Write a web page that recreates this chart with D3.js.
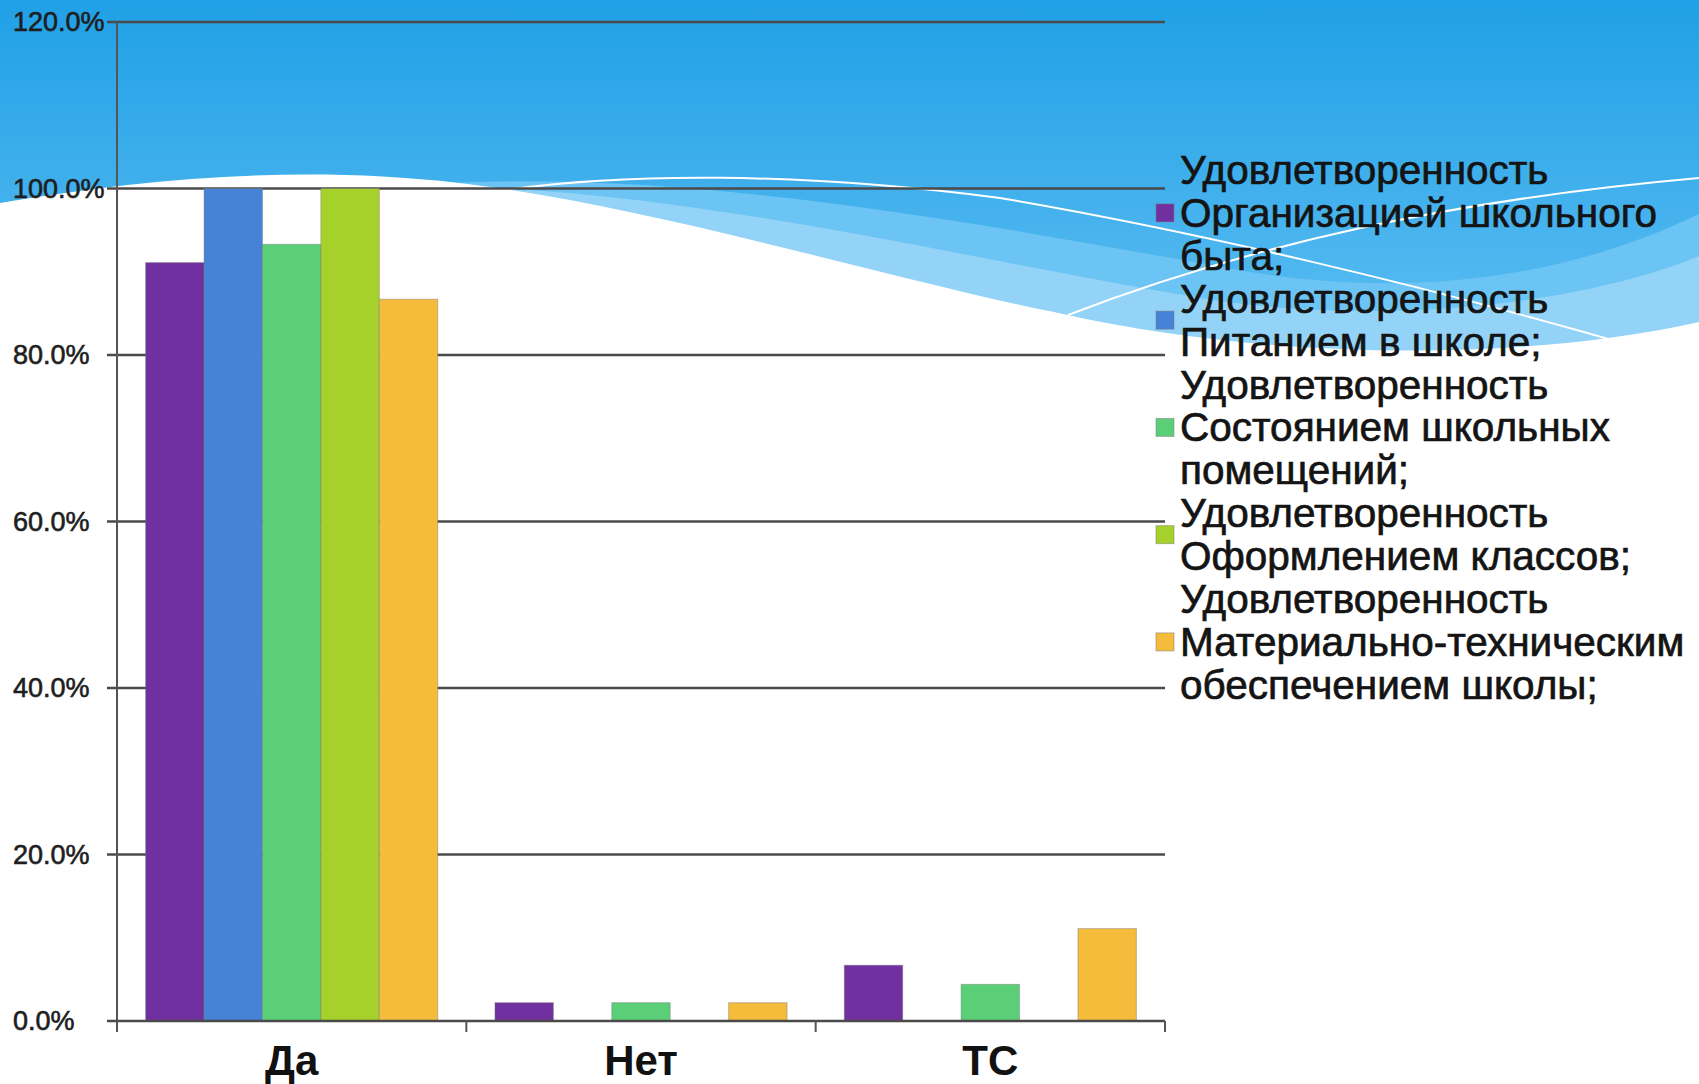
<!DOCTYPE html>
<html>
<head>
<meta charset="utf-8">
<script src="https://cdn.jsdelivr.net/npm/d3@7"></script>
<style>
  html, body { margin: 0; padding: 0; background: #fff; }
  svg { display: block; }
</style>
</head>
<body>
<div id="chart"></div>
<script>
// categories on the x axis
const categories = ["Да", "Нет", "ТС"];

// legend entries, already broken into lines as on the slide
const seriesNames = [
    ["Удовлетворенность", "Организацией школьного", "быта;"],
    ["Удовлетворенность", "Питанием в школе;"],
    ["Удовлетворенность", "Состоянием школьных", "помещений;"],
    ["Удовлетворенность", "Оформлением классов;"],
    ["Удовлетворенность", "Материально-техническим", "обеспечением школы;"]
];

// share of answers per series, in order Да / Нет / ТС
const orgValues = [0.911, 0.022, 0.067];
const foodValues = [1.0, 0, 0];
const roomValues = [0.933, 0.022, 0.044];
const classValues = [1.0, 0, 0];
const equipValues = [0.867, 0.022, 0.111];

const seriesValues = [orgValues, foodValues, roomValues, classValues, equipValues];
const seriesColors = ["#7030a0", "#4682d6", "#5bcf78", "#a6d12a", "#f5bc3c"];

const yTicks = [0, 0.2, 0.4, 0.6, 0.8, 1.0, 1.2];

const W = 1699, H = 1084;
const plot = { left: 117, right: 1165, top: 22, bottom: 1021 };

const svg = d3.select("#chart")
    .append("svg")
    .attr("width", W)
    .attr("height", H);

// slide background: blue sky with white wave
const defs = svg.append("defs");
const grad = defs.append("linearGradient")
    .attr("id", "sky")
    .attr("x1", 0).attr("y1", 0).attr("x2", 0).attr("y2", 1);
grad.append("stop").attr("offset", "0%").attr("stop-color", "#20a0e6");
grad.append("stop").attr("offset", "100%").attr("stop-color", "#62c0f3");

const bg = svg.append("g").attr("class", "background");
bg.append("rect")
    .attr("width", W)
    .attr("height", 380)
    .attr("fill", "url(#sky)");
bg.append("path")
    .attr("d", "M430,184 C700,168 1000,228 1250,272 C1450,304 1600,262 1699,214 L1699,1084 L430,1084 Z")
    .attr("fill", "#6cc4f4");
bg.append("path")
    .attr("d", "M450,186 C700,192 950,256 1200,298 C1400,330 1600,298 1699,256 L1699,1084 L450,1084 Z")
    .attr("fill", "#93d3f7");
bg.append("path")
    .attr("d", "M0,203 C150,178 300,165 459,183 C650,205 900,282 1063,314 C1250,356 1500,366 1699,322 L1699,1084 L0,1084 Z")
    .attr("fill", "#ffffff");
bg.append("path")
    .attr("d", "M491,192 C620,172 800,172 1000,198 C1200,232 1420,285 1612,340")
    .attr("fill", "none")
    .attr("stroke", "#ffffff")
    .attr("stroke-width", 2);
bg.append("path")
    .attr("d", "M1068,315 C1250,245 1450,200 1699,178")
    .attr("fill", "none")
    .attr("stroke", "#ffffff")
    .attr("stroke-width", 2);

// scales
const x0 = d3.scaleBand()
    .domain(categories)
    .range([plot.left, plot.right])
    .paddingInner(0)
    .paddingOuter(0);

const x1 = d3.scaleBand()
    .domain(d3.range(seriesValues.length))
    .range([0, x0.bandwidth()])
    .paddingInner(0)
    .paddingOuter(0.49);

const y = d3.scaleLinear()
    .domain([0, 1.2])
    .range([plot.bottom, plot.top]);

// gridlines with small tick on the left
const grid = svg.append("g").attr("class", "grid");
grid.selectAll("line")
    .data(yTicks.filter((d) => d > 0))
    .enter()
    .append("line")
    .attr("x1", plot.left - 10)
    .attr("x2", plot.right)
    .attr("y1", (d) => y(d))
    .attr("y2", (d) => y(d))
    .attr("stroke", "#4a4a4a")
    .attr("stroke-width", 2.5);

// y tick labels (left aligned, as in the slide)
svg.append("g")
    .attr("class", "y-labels")
    .selectAll("text")
    .data(yTicks)
    .enter()
    .append("text")
    .attr("x", 13)
    .attr("y", (d) => y(d))
    .attr("dy", "0.35em")
    .attr("font-family", "Liberation Sans, Arial, sans-serif")
    .attr("font-size", 27)
    .attr("fill", "#1e1e1e")
    .attr("stroke", "#1e1e1e")
    .attr("stroke-width", 0.6)
    .text((d) => d3.format(".1%")(d));

// bars
const groups = svg.append("g")
    .attr("class", "bars")
    .selectAll("g")
    .data(categories)
    .enter()
    .append("g")
    .attr("transform", (c) => `translate(${x0(c)},0)`);

groups.selectAll("rect")
    .data((c, ci) => seriesValues
        .map((vals, si) => ({ si, value: vals[ci] }))
        .filter((d) => d.value > 0))
    .enter()
    .append("rect")
    .attr("x", (d) => x1(d.si))
    .attr("y", (d) => y(d.value))
    .attr("width", x1.bandwidth())
    .attr("height", (d) => y(0) - y(d.value))
    .attr("fill", (d) => seriesColors[d.si])
    .attr("stroke", "rgba(120,120,120,0.45)")
    .attr("stroke-width", 1);

// axes lines
const axis = svg.append("g").attr("class", "axes");
axis.append("line")
    .attr("x1", plot.left).attr("x2", plot.left)
    .attr("y1", plot.top).attr("y2", plot.bottom)
    .attr("stroke", "#555")
    .attr("stroke-width", 2);
axis.append("line")
    .attr("x1", plot.left - 10).attr("x2", plot.right)
    .attr("y1", plot.bottom).attr("y2", plot.bottom)
    .attr("stroke", "#4a4a4a")
    .attr("stroke-width", 2.5);

// category separators below the axis
const edges = categories.map((c) => x0(c)).concat([x0(categories[categories.length - 1]) + x0.bandwidth()]);
axis.selectAll(".sep")
    .data(edges)
    .enter()
    .append("line")
    .attr("class", "sep")
    .attr("x1", (d) => d).attr("x2", (d) => d)
    .attr("y1", plot.bottom).attr("y2", plot.bottom + 11)
    .attr("stroke", "#555")
    .attr("stroke-width", 2);

// category labels
svg.append("g")
    .attr("class", "x-labels")
    .selectAll("text")
    .data(categories)
    .enter()
    .append("text")
    .attr("x", (c) => x0(c) + x0.bandwidth() / 2)
    .attr("y", 1075)
    .attr("text-anchor", "middle")
    .attr("font-family", "Liberation Sans, Arial, sans-serif")
    .attr("font-weight", "bold")
    .attr("font-size", 42)
    .attr("fill", "#111")
    .text((c) => c);

// legend
const lineH = 42.9;
const legend = svg.append("g").attr("class", "legend");
let lineIndex = 0;
seriesNames.forEach((lines, si) => {
    const firstBase = 184 + lineIndex * lineH;
    const centerY = firstBase - 14 + (lines.length - 1) * lineH / 2;
    legend.append("rect")
        .attr("x", 1156)
        .attr("y", centerY - 9)
        .attr("width", 18)
        .attr("height", 18)
        .attr("fill", seriesColors[si])
        .attr("stroke", "rgba(120,120,120,0.5)")
        .attr("stroke-width", 1);
    lines.forEach((t, li) => {
        legend.append("text")
            .attr("x", 1180)
            .attr("y", firstBase + li * lineH)
            .attr("font-family", "Liberation Sans, Arial, sans-serif")
            .attr("font-size", 40.5)
            .attr("fill", "#141414")
            .attr("stroke", "#141414")
            .attr("stroke-width", 0.7)
            .text(t);
    });
    lineIndex += lines.length;
});
</script>
</body>
</html>
